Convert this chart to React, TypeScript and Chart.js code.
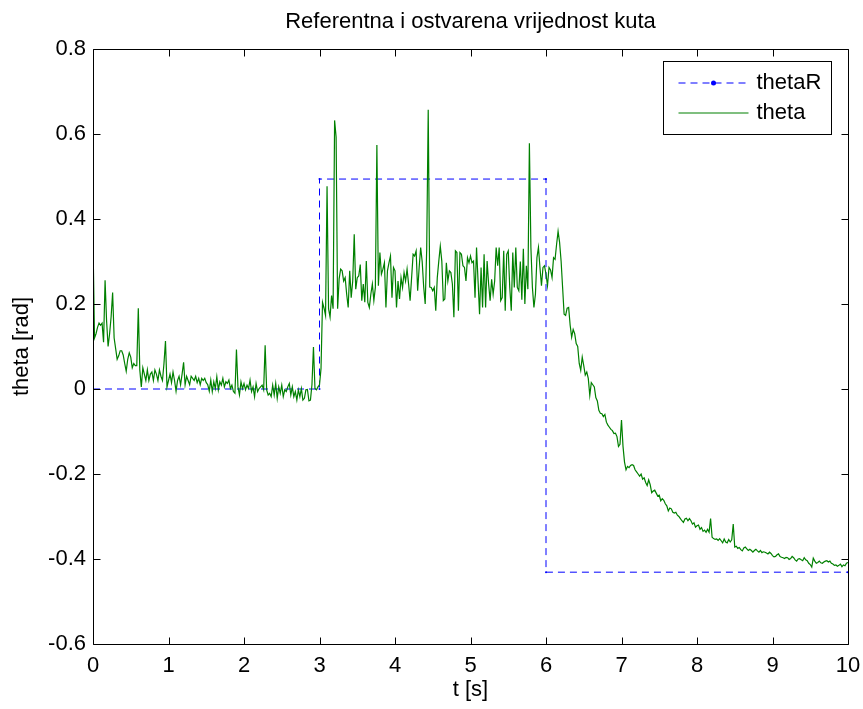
import React, { useEffect, useRef } from "react";
import { Chart, registerables } from "chart.js";

Chart.register(...registerables);

const TITLE = "Referentna i ostvarena vrijednost kuta";
const X_LABEL = "t [s]";
const Y_LABEL = "theta [rad]";
const REF_LABEL = "thetaR";
const OUT_LABEL = "theta";

const SAMPLE_DT = 0.02; // seconds between samples of theta

// theta, t = 0.00 … 1.54 s
const thetaStart = [
  0.35, 0.12, 0.13, 0.145, 0.155, 0.15, 0.155, 0.11, 0.256, 0.16,
  0.1, 0.13, 0.17, 0.227, 0.12, 0.095, 0.07, 0.078, 0.09, 0.09,
  0.08, 0.06, 0.042, 0.07, 0.085, 0.075, 0.05, 0.06, 0.055, 0.055,
  0.19, 0.045, 0.005, 0.05, 0.035, 0.02, 0.045, 0.02, 0.035, 0.04,
  0.02, 0.045, 0.035, 0.02, 0.045, 0.03, 0.02, 0.06, 0.113, 0.005,
  0.02, 0.035, 0.015, 0.04, 0.02, -0.005, 0.02, 0.03, 0.01, 0.035,
  0.063, 0.01, 0.03, 0.02, 0.01, 0.03, 0.025, 0.02, 0.03, 0.015,
  0.025, 0.01, 0.025, 0.02, 0.025, 0.015, 0.01, -0.005,
];

// theta, t = 1.56 … 2.98 s
const thetaSettled = [
  0.021, -0.006, 0.017, 0.001, 0.029, -0.002, 0.017, 0.009, 0.025, 0.005,
  0.017, 0.013, 0.021, 0.001, 0.009, -0.006, -0.01, 0.093, 0.005, -0.014,
  0.017, 0.001, 0.013, -0.002, 0.009, 0.001, 0.021, -0.006, 0.005, -0.018,
  0.013, -0.006, 0.001, 0.005, 0.009, -0.002, 0.103, -0.002, -0.014, -0.01,
  -0.018, 0.009, -0.014, 0.013, -0.022, 0.005, -0.01, 0.009, -0.018, -0.002,
  -0.006, 0.005, 0.013, -0.014, 0.005, -0.018, -0.006, -0.026, -0.002, -0.018,
  0.001, -0.026, -0.022, -0.002, -0.001, -0.028, -0.026, 0.01, 0.099, 0.001,
  -0.002, 0.005,
];

// theta, t = 3.00 … 5.98 s
const thetaHigh = [
  0.01, 0.048, 0.204, 0.19, 0.173, 0.477, 0.189, 0.169, 0.22, 0.189,
  0.632, 0.593, 0.189, 0.259, 0.282, 0.278, 0.254, 0.262, 0.223, 0.192,
  0.278, 0.215, 0.254, 0.364, 0.235, 0.262, 0.266, 0.293, 0.208, 0.247,
  0.204, 0.301, 0.204, 0.192, 0.223, 0.247, 0.208, 0.239, 0.574, 0.243,
  0.321, 0.27, 0.282, 0.297, 0.192, 0.278, 0.297, 0.313, 0.215, 0.286,
  0.278, 0.192, 0.254, 0.212, 0.262, 0.239, 0.274, 0.254, 0.282, 0.247,
  0.208, 0.262, 0.317, 0.313, 0.325, 0.231, 0.286, 0.333, 0.3, 0.24,
  0.2, 0.33, 0.657, 0.24, 0.239, 0.231, 0.239, 0.184, 0.262, 0.301,
  0.336, 0.301, 0.208, 0.212, 0.297, 0.254, 0.278, 0.274, 0.247, 0.169,
  0.325, 0.321, 0.184, 0.321, 0.317, 0.29, 0.286, 0.254, 0.309, 0.297,
  0.313, 0.297, 0.301, 0.215, 0.333, 0.254, 0.176, 0.286, 0.192, 0.317,
  0.192, 0.301, 0.247, 0.208, 0.258, 0.223, 0.254, 0.333, 0.29, 0.333,
  0.208, 0.215, 0.325, 0.184, 0.317, 0.325, 0.239, 0.184, 0.321, 0.239,
  0.333, 0.239, 0.231, 0.3, 0.21, 0.33, 0.2, 0.29, 0.235, 0.578,
  0.333, 0.239, 0.192, 0.223, 0.309, 0.333, 0.286, 0.243, 0.286, 0.29,
];

// theta, t = 6.00 … 10.00 s
const thetaDecay = [
  0.27, 0.243, 0.286, 0.28, 0.262, 0.309, 0.305, 0.34, 0.371, 0.345,
  0.301, 0.239, 0.176, 0.173, 0.19, 0.192, 0.15, 0.122, 0.14, 0.13,
  0.107, 0.1, 0.06, 0.044, 0.075, 0.055, 0.033, 0.04, 0.025, -0.015,
  0.015, 0.01, 0.005, -0.02, -0.028, -0.05, -0.057, -0.058, -0.065, -0.06,
  -0.078, -0.085, -0.09, -0.095, -0.098, -0.105, -0.104, -0.112, -0.135, -0.13,
  -0.073, -0.135, -0.172, -0.19, -0.182, -0.185, -0.18, -0.178, -0.18, -0.19,
  -0.195, -0.2, -0.205, -0.2, -0.212, -0.209, -0.22, -0.227, -0.214, -0.225,
  -0.244, -0.24, -0.238, -0.245, -0.252, -0.25, -0.263, -0.258, -0.262, -0.27,
  -0.275, -0.287, -0.28, -0.282, -0.29, -0.292, -0.29, -0.297, -0.3, -0.305,
  -0.31, -0.314, -0.306, -0.304, -0.31, -0.305, -0.31, -0.318, -0.315, -0.325,
  -0.322, -0.32, -0.33, -0.326, -0.335, -0.332, -0.337, -0.33, -0.337, -0.305,
  -0.349, -0.352, -0.354, -0.353, -0.356, -0.352, -0.357, -0.362, -0.353, -0.36,
  -0.362, -0.354, -0.36, -0.355, -0.318, -0.372, -0.37, -0.375, -0.373, -0.378,
  -0.381, -0.374, -0.372, -0.376, -0.38, -0.377, -0.38, -0.384, -0.38, -0.377,
  -0.381, -0.384, -0.38, -0.385, -0.383, -0.384, -0.386, -0.388, -0.384, -0.387,
  -0.392, -0.395, -0.394, -0.39, -0.388, -0.394, -0.396, -0.397, -0.399, -0.396,
  -0.397, -0.401, -0.399, -0.394, -0.397, -0.402, -0.405, -0.4, -0.399, -0.402,
  -0.404, -0.397, -0.402, -0.404, -0.41, -0.413, -0.419, -0.398, -0.405, -0.41,
  -0.408, -0.405, -0.409, -0.41, -0.407, -0.405, -0.404, -0.407, -0.405, -0.41,
  -0.412, -0.415, -0.414, -0.417, -0.415, -0.412, -0.418, -0.414, -0.416, -0.41,
  -0.408,
];

// reference thetaR (step signal corners)
const refTimes = [0, 3, 3, 6, 6, 10];
const refValues = [0, 0, 0.494, 0.494, -0.431, -0.431];

const xTicks = [0, 1, 2, 3, 4, 5, 6, 7, 8, 9, 10];
const yTicks = [-0.6, -0.4, -0.2, 0, 0.2, 0.4, 0.6, 0.8];

const FONT_FAMILY = "'Liberation Sans', Arial, Helvetica, sans-serif";
const FONT_SIZE = 22;
const REF_COLOR = "#0000ff";
const OUT_COLOR = "#008000";
const REF_DASH = [7, 5];

const framePlugin = {
  id: "matlabFrame",
  afterDatasetsDraw(chart: any) {
    const { ctx, chartArea: a, scales } = chart;
    const L = Math.round(a.left) + 0.5;
    const R = Math.round(a.right) + 0.5;
    const T = Math.round(a.top) + 0.5;
    const B = Math.round(a.bottom) + 0.5;
    const len = 7;
    ctx.save();
    ctx.strokeStyle = "#000";
    ctx.lineWidth = 1;
    ctx.setLineDash([]);
    ctx.beginPath();
    ctx.rect(L, T, R - L, B - T);
    for (const t of scales.x.ticks) {
      const px = Math.round(scales.x.getPixelForValue(t.value)) + 0.5;
      ctx.moveTo(px, B);
      ctx.lineTo(px, B - len);
      ctx.moveTo(px, T);
      ctx.lineTo(px, T + len);
    }
    for (const t of scales.y.ticks) {
      const py = Math.round(scales.y.getPixelForValue(t.value)) + 0.5;
      ctx.moveTo(L, py);
      ctx.lineTo(L + len, py);
      ctx.moveTo(R, py);
      ctx.lineTo(R - len, py);
    }
    ctx.stroke();
    ctx.restore();
  },
};

const legendPlugin = {
  id: "matlabLegend",
  afterDraw(chart: any) {
    const { ctx, chartArea: a } = chart;
    const w = 168;
    const h = 73;
    const left = Math.round(a.right - 17 - w) + 0.5;
    const top = Math.round(a.top + 12) + 0.5;
    ctx.save();
    ctx.fillStyle = "#fff";
    ctx.fillRect(left, top, w, h);
    ctx.strokeStyle = "#000";
    ctx.lineWidth = 1;
    ctx.setLineDash([]);
    ctx.strokeRect(left, top, w, h);
    const rows = [top + 21, top + 51.5];
    chart.data.datasets.forEach((ds: any, i: number) => {
      const y = Math.round(rows[i]);
      const x0 = left + 15;
      const x1 = left + 85;
      ctx.beginPath();
      ctx.strokeStyle = ds.borderColor;
      ctx.lineWidth = 1.2;
      ctx.setLineDash(ds.borderDash || []);
      ctx.moveTo(x0, y);
      ctx.lineTo(x1, y);
      ctx.stroke();
      ctx.setLineDash([]);
      if (ds.pointRadius > 0) {
        ctx.beginPath();
        ctx.fillStyle = ds.borderColor;
        ctx.arc((x0 + x1) / 2, y, 2.5, 0, Math.PI * 2);
        ctx.fill();
      }
      ctx.fillStyle = "#000";
      ctx.font = `${FONT_SIZE}px ${FONT_FAMILY}`;
      ctx.textBaseline = "middle";
      ctx.textAlign = "left";
      ctx.fillText(ds.label, left + 93, y);
    });
    ctx.restore();
  },
};

export default function App() {
  const canvasRef = useRef<HTMLCanvasElement | null>(null);

  useEffect(() => {
    document.body.style.margin = "0";
    const canvas = canvasRef.current;
    if (!canvas) return;

    const thetaValues = [...thetaStart, ...thetaSettled, ...thetaHigh, ...thetaDecay];
    const thetaPoints = thetaValues.map((v, i) => ({ x: Number((i * SAMPLE_DT).toFixed(2)), y: v }));
    const refPoints = refTimes.map((t, i) => ({ x: t, y: refValues[i] }));

    const font = { family: FONT_FAMILY, size: FONT_SIZE, weight: "normal" as const };

    const chart = new Chart(canvas, {
      type: "line",
      data: {
        datasets: [
          {
            label: REF_LABEL,
            data: refPoints,
            xAxisID: "x",
            yAxisID: "y",
            borderColor: REF_COLOR,
            backgroundColor: REF_COLOR,
            borderWidth: 1,
            borderDash: REF_DASH,
            pointRadius: 1,
            pointBorderWidth: 0,
            pointBackgroundColor: REF_COLOR,
            tension: 0,
            fill: false,
            order: 2,
          },
          {
            label: OUT_LABEL,
            data: thetaPoints,
            xAxisID: "x",
            yAxisID: "y",
            borderColor: OUT_COLOR,
            backgroundColor: OUT_COLOR,
            borderWidth: 1.2,
            pointRadius: 0,
            tension: 0,
            fill: false,
            order: 1,
          },
        ],
      },
      options: {
        responsive: false,
        animation: false,
        devicePixelRatio: 1,
        parsing: false as any,
        normalized: true,
        layout: { padding: { left: 0, right: 15, top: 0, bottom: 0 } },
        plugins: {
          legend: { display: false },
          tooltip: { enabled: false },
          title: { display: false },
        },
        scales: {
          x: {
            type: "linear",
            position: "bottom",
            min: 0,
            max: 10,
            afterBuildTicks: (s: any) => {
              s.ticks = xTicks.map((v) => ({ value: v }));
            },
            afterFit: (s: any) => {
              s.height = 65;
              s.paddingLeft = 0;
              s.paddingRight = 0;
            },
            grid: { display: false, drawTicks: false },
            border: { display: false },
            ticks: {
              color: "#000",
              font,
              padding: 9,
              maxRotation: 0,
              autoSkip: false,
              callback: (v: any) => String(v),
            },
            title: {
              display: true,
              text: X_LABEL,
              color: "#000",
              font,
              padding: { top: 0, bottom: 6 },
            },
          },
          titleAxis: {
            type: "linear",
            position: "top",
            axis: "x",
            min: 0,
            max: 10,
            afterFit: (s: any) => {
              s.height = 49;
              s.paddingLeft = 0;
              s.paddingRight = 0;
            },
            grid: { display: false, drawTicks: false },
            border: { display: false },
            ticks: { display: false },
            title: {
              display: true,
              text: TITLE,
              color: "#000",
              font,
              padding: { top: 9, bottom: 0 },
            },
          },
          y: {
            type: "linear",
            position: "left",
            min: -0.6,
            max: 0.8,
            afterBuildTicks: (s: any) => {
              s.ticks = yTicks.map((v) => ({ value: v }));
            },
            afterFit: (s: any) => {
              s.width = 93;
              s.paddingTop = 0;
              s.paddingBottom = 0;
            },
            grid: { display: false, drawTicks: false },
            border: { display: false },
            ticks: {
              color: "#000",
              font,
              padding: 7,
              autoSkip: false,
              callback: (v: any) => (Math.abs(v) < 1e-9 ? "0" : Number(v).toFixed(1)),
            },
            title: {
              display: true,
              text: Y_LABEL,
              color: "#000",
              font,
              padding: { top: 9, bottom: 0 },
            },
          },
        },
      } as any,
      plugins: [framePlugin, legendPlugin],
    });

    return () => chart.destroy();
  }, []);

  return (
    <canvas
      ref={canvasRef}
      width={863}
      height={709}
      style={{ display: "block", width: 863, height: 709 }}
    />
  );
}
